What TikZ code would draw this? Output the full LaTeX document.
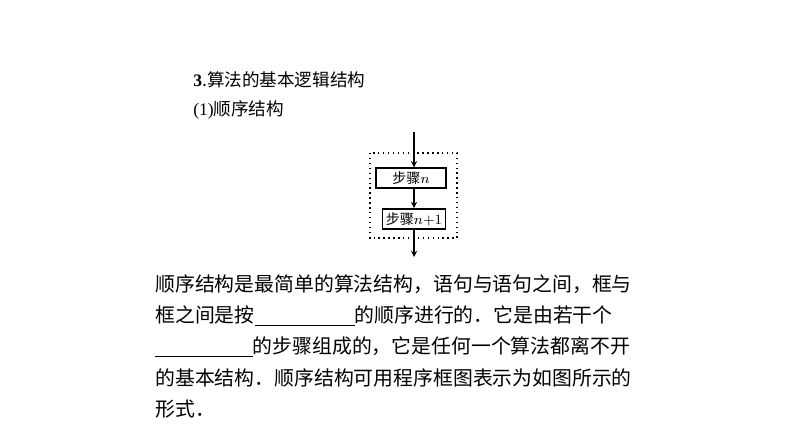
\documentclass[tikz,border=0pt]{standalone}
\usepackage{fontspec}
\setmainfont{Liberation Serif}
\newfontfamily\cjk{Noto Sans CJK SC}
\usetikzlibrary{positioning}
\tikzset{
  stepbox/.style={draw, thick, inner sep=2pt, font=\cjk\fontsize{8pt}{9pt}\selectfont},
  txt/.style={anchor=west, inner sep=0pt, font=\cjk\fontsize{11.3pt}{13pt}\selectfont},
  flow/.style={->, >=stealth, semithick}
}
\newcommand{\blank}[1]{\rule[-2pt]{#1}{0.5pt}}
\begin{document}
\begin{tikzpicture}[x=0.02cm,y=-0.02cm]
  \useasboundingbox (0,0) rectangle (794,447);
  \node[txt, font=\cjk\fontsize{10pt}{12pt}\selectfont] (title) at (193,80) {\textbf{\rmfamily 3}.算法的基本逻辑结构};
  \node[txt, font=\cjk\fontsize{10pt}{12pt}\selectfont] (sub) at (193,110) {{\rmfamily(1)}顺序结构};

  \draw[dotted, thick] (370,153) rectangle (457,238);
  \coordinate (top) at (414,132);
  \coordinate (bot) at (414,257);
  \node[stepbox, minimum width=50\pgflinewidth] (s1) at (411,178) {步骤$n$};
  \node[stepbox] (s2) at (414,219) {步骤$n{+}1$};
  \draw[flow] (top) -- (top |- s1.north);
  \draw[flow] (s1.south -| top) -- (top |- s2.north);
  \draw[flow] (top |- s2.south) -- (bot);

  \node[txt] (l1) at (155,284) {顺序结构是最简单的算法结构，语句与语句之间，框与};
  \node[txt] (l2) at (155,316) {框之间是按\blank{2cm}的顺序进行的．它是由若干个};
  \node[txt] (l3) at (155,347) {\blank{1.95cm}的步骤组成的，它是任何一个算法都离不开};
  \node[txt] (l4) at (155,378) {的基本结构．顺序结构可用程序框图表示为如图所示的};
  \node[txt] (l5) at (155,409) {形式．};
\end{tikzpicture}
\end{document}
